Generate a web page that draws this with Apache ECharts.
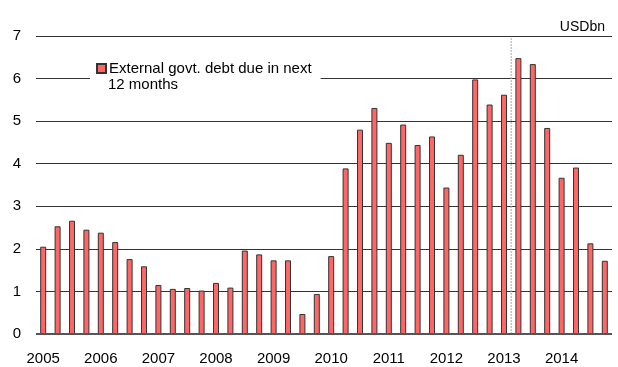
<!DOCTYPE html>
<html>
<head>
<meta charset="utf-8">
<script src="https://cdn.jsdelivr.net/npm/echarts@6/dist/echarts.min.js"></script>
<style>
  html, body { margin: 0; padding: 0; background: #fff; }
  #chart { width: 618px; height: 367px; }
</style>
</head>
<body>
<div id="chart"></div>
<script>
// Quarterly external government debt falling due within the next 12 months (USD bn)
const years = [2005, 2006, 2007, 2008, 2009, 2010, 2011, 2012, 2013, 2014];
const quarters = ['Q1', 'Q2', 'Q3', 'Q4'];
const debtDue = [
  2.05, 2.53, 2.66, 2.45,
  2.38, 2.16, 1.76, 1.59,
  1.15, 1.06, 1.08, 1.02,
  1.20, 1.09, 1.96, 1.87,
  1.73, 1.73, 0.47, 0.94,
  1.83, 3.89, 4.80, 5.31,
  4.49, 4.92, 4.44, 4.64,
  3.44, 4.21, 5.98, 5.39,
  5.62, 6.48, 6.34, 4.84,
  3.67, 3.91, 2.13, 1.72
];
const yTicks = [0, 1, 2, 3, 4, 5, 6, 7];
const seriesName = 'External govt. debt due in next';
const seriesNameLine2 = '12 months';
const unitLabel = 'USDbn';
const dividerBefore = '2013 Q2';

const categories = [];
years.forEach(y => quarters.forEach(q => categories.push(y + ' ' + q)));
const dividerIdx = categories.indexOf(dividerBefore);

const font = '"Liberation Sans", Arial, sans-serif';
const chart = echarts.init(document.getElementById('chart'), null, { renderer: 'canvas' });

chart.setOption({
  animation: false,
  backgroundColor: '#fff',
  grid: { left: 36, right: 6, top: 36, bottom: 33, containLabel: false },
  legend: {
    left: 90,
    top: 57,
    padding: [4, 9, 21, 6],
    backgroundColor: '#fff',
    itemWidth: 9,
    itemHeight: 9,
    itemGap: 0,
    icon: 'rect',
    textStyle: { fontFamily: font, fontSize: 15, color: '#000', padding: [0, 0, 0, -2] },
    data: [seriesName]
  },
  graphic: [
    {
      type: 'text', z: 100, left: 108, top: 77,
      style: { text: seriesNameLine2, font: '15px ' + font, fill: '#000' }
    },
    {
      type: 'text', z: 100, right: 13, top: 20,
      style: { text: unitLabel, font: '14px ' + font, fill: '#000' }
    }
  ],
  xAxis: [
    {
      type: 'category',
      data: categories,
      boundaryGap: true,
      axisLine: { show: false },
      axisTick: { show: false },
      axisLabel: {
        interval: 3,
        margin: 17,
        fontFamily: font,
        fontSize: 15,
        color: '#000',
        formatter: v => v.split(' ')[0]
      },
      splitLine: { show: false }
    },
    {
      type: 'value',
      min: 0,
      max: categories.length,
      show: false
    }
  ],
  yAxis: {
    type: 'value',
    min: yTicks[0],
    max: yTicks[yTicks.length - 1],
    interval: 1,
    axisLine: { show: false },
    axisTick: { show: false },
    axisLabel: { margin: 15, fontFamily: font, fontSize: 15, color: '#000' },
    splitLine: { show: true, lineStyle: { color: '#333', width: 1 } }
  },
  series: [
    {
      name: seriesName,
      type: 'bar',
      xAxisIndex: 0,
      data: debtDue,
      barWidth: 6,
      itemStyle: { color: '#ff6666', borderColor: '#333', borderWidth: 1 },
      z: 3
    },
    {
      name: 'divider',
      type: 'line',
      xAxisIndex: 1,
      data: [[dividerIdx, 0], [dividerIdx, 6.95]],
      symbol: 'none',
      lineStyle: { color: '#aaa', width: 1, type: [2, 1] },
      z: 4,
      silent: true
    },
    {
      name: 'baseline',
      type: 'line',
      xAxisIndex: 1,
      data: [[0, 0], [categories.length, 0]],
      symbol: 'none',
      lineStyle: { color: '#555', width: 2 },
      z: 5,
      silent: true
    }
  ]
});
</script>
</body>
</html>
